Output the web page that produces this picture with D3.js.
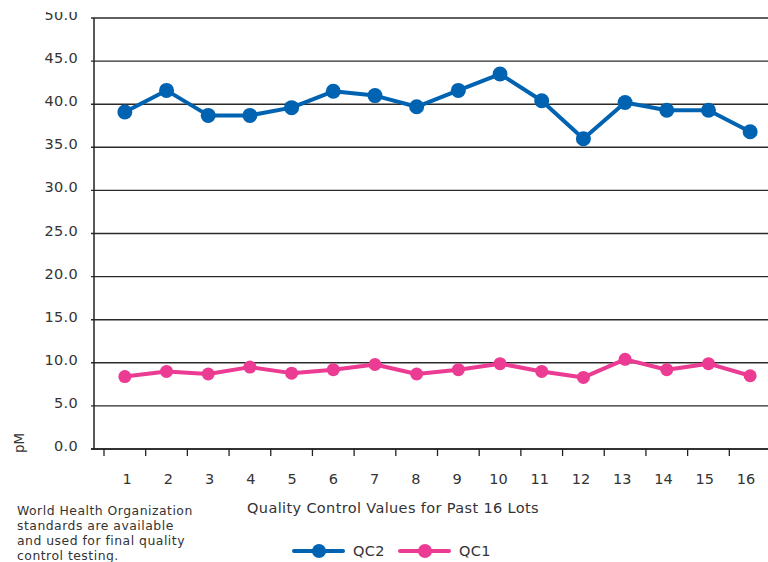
<!DOCTYPE html>
<html>
<head>
<meta charset="utf-8">
<script src="https://cdn.jsdelivr.net/npm/d3@7"></script>
<style>
  body { margin: 0; background: #fff; }
  text { font-family: 'DejaVu Sans', Verdana, sans-serif; fill: #333; }
</style>
</head>
<body>
<div class="chart"></div>
<script>
'use strict';

const lots = ['1', '2', '3', '4', '5', '6', '7', '8', '9', '10', '11', '12', '13', '14', '15', '16'];
const qc2 = [39.1, 41.6, 38.7, 38.7, 39.6, 41.5, 41.0, 39.7, 41.6, 43.5, 40.4, 36.0, 40.2, 39.3, 39.3, 36.8];
const qc1 = [8.4, 9.0, 8.7, 9.5, 8.8, 9.2, 9.8, 8.7, 9.2, 9.9, 9.0, 8.3, 10.4, 9.2, 9.9, 8.5];
const yTicks = [0, 5, 10, 15, 20, 25, 30, 35, 40, 45, 50];
const series = [
  {name: 'QC2', values: qc2, color: '#0063b1', r: 7.5},
  {name: 'QC1', values: qc1, color: '#ec3b93', r: 6.5}
];
const note = ['World Health Organization', 'standards are available', 'and used for final quality', 'control testing.'];

const FULL_WIDTH = 768;
const FULL_HEIGHT = 562;

const svg = d3.select('.chart')
  .append('svg')
    .attr('width', FULL_WIDTH)
    .attr('height', FULL_HEIGHT);

const x = d3.scaleBand()
  .domain(lots)
  .range([104, 771])
  .padding(0);

const xLabel = d3.scalePoint()
  .domain(lots)
  .range([127, 746]);

const y = d3.scaleLinear()
  .domain([0, 50])
  .range([449, 18]);

const cx = (i) => x(lots[i]) + x.bandwidth() / 2;

// gridlines
svg.append('g')
  .selectAll('line')
  .data(yTicks)
  .enter()
  .append('line')
    .attr('x1', 91)
    .attr('x2', FULL_WIDTH)
    .attr('y1', (d) => y(d))
    .attr('y2', (d) => y(d))
    .attr('stroke', '#2b2b2b')
    .attr('stroke-width', 1.4);

// y labels, top one is cut off in the original
svg.append('clipPath')
    .attr('id', 'ylab-clip')
  .append('rect')
    .attr('x', 0)
    .attr('y', 12)
    .attr('width', 92)
    .attr('height', 500);

svg.append('g')
    .attr('clip-path', 'url(#ylab-clip)')
  .selectAll('text')
  .data(yTicks)
  .enter()
  .append('text')
    .attr('x', 78)
    .attr('y', (d) => y(d) + 2)
    .attr('text-anchor', 'end')
    .attr('font-size', 14.5)
    .attr('letter-spacing', 0.3)
    .text((d) => d.toFixed(1));

// axes
svg.append('line')
  .attr('x1', 94).attr('x2', 94)
  .attr('y1', y(50)).attr('y2', y(0))
  .attr('stroke', '#222').attr('stroke-width', 1.5);

svg.append('line')
  .attr('x1', 91).attr('x2', FULL_WIDTH)
  .attr('y1', y(0)).attr('y2', y(0))
  .attr('stroke', '#222').attr('stroke-width', 1.5);

svg.append('g')
  .selectAll('line')
  .data(lots)
  .enter()
  .append('line')
    .attr('x1', (d) => x(d))
    .attr('x2', (d) => x(d))
    .attr('y1', y(0))
    .attr('y2', y(0) + 7)
    .attr('stroke', '#222')
    .attr('stroke-width', 1.3);

svg.append('g')
  .selectAll('text')
  .data(lots)
  .enter()
  .append('text')
    .attr('x', (d) => xLabel(d))
    .attr('y', 484)
    .attr('text-anchor', 'middle')
    .attr('font-size', 14.5)
    .text((d) => d);

svg.append('text')
  .attr('x', 393)
  .attr('y', 513)
  .attr('text-anchor', 'middle')
  .attr('font-size', 14.5)
  .attr('letter-spacing', 0.36)
  .text('Quality Control Values for Past 16 Lots');

svg.append('text')
  .attr('transform', 'translate(24, 443) rotate(-90)')
  .attr('text-anchor', 'middle')
  .attr('font-size', 13.5)
  .text('pM');

// series
const line = d3.line()
  .x((d, i) => cx(i))
  .y((d) => y(d));

series.forEach((s) => {
  svg.append('path')
    .datum(s.values)
    .attr('d', line)
    .attr('fill', 'none')
    .attr('stroke', s.color)
    .attr('stroke-width', 4)
    .attr('stroke-linejoin', 'round');

  svg.append('g')
    .selectAll('circle')
    .data(s.values)
    .enter()
    .append('circle')
      .attr('cx', (d, i) => cx(i))
      .attr('cy', (d) => y(d))
      .attr('r', s.r)
      .attr('fill', s.color);
});

// footnote
svg.append('text')
  .attr('font-size', 12.4)
  .attr('letter-spacing', 0.5)
  .selectAll('tspan')
  .data(note)
  .enter()
  .append('tspan')
    .attr('x', 17)
    .attr('y', (d, i) => 515 + i * 15)
    .text((d) => d);

// legend
const legend = svg.append('g')
  .selectAll('g')
  .data(series)
  .enter()
  .append('g')
    .attr('transform', (d, i) => 'translate(' + (294 + i * 106) + ', 551)');

legend.append('line')
  .attr('x1', 0).attr('x2', 49)
  .attr('y1', 0).attr('y2', 0)
  .attr('stroke', (d) => d.color)
  .attr('stroke-width', 4)
  .attr('stroke-linecap', 'round');

legend.append('circle')
  .attr('cx', 25)
  .attr('cy', 0)
  .attr('r', 7)
  .attr('fill', (d) => d.color);

legend.append('text')
  .attr('x', 59)
  .attr('y', 5)
  .attr('font-size', 14.5)
  .attr('letter-spacing', 0.3)
  .text((d) => d.name);
</script>
</body>
</html>
